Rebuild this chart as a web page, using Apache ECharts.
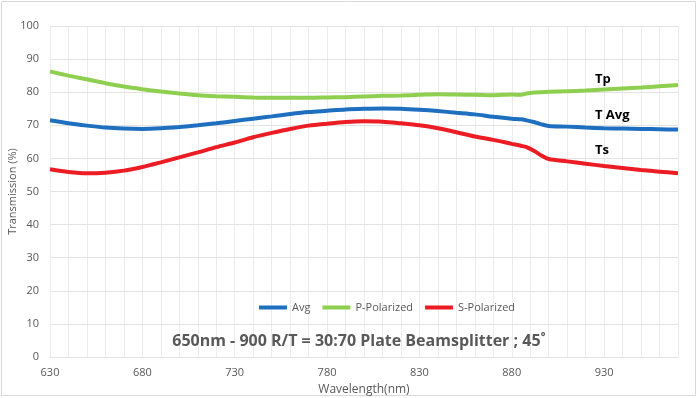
<!DOCTYPE html>
<html>
<head>
    <meta charset="utf-8">
    <script src="https://cdn.jsdelivr.net/npm/echarts@6/dist/echarts.min.js"></script>
    <style>
        html, body { margin: 0; padding: 0; background: #fff; }
    </style>
</head>
<body>
	<div id="main" style="width: 699px; height: 398px;"></div>
	<script type="text/javascript">
		// wavelength (nm), denser around the kink near 890nm
		var wavelengths = [630,640,650,660,670,680,690,700,710,720,730,740,750,760,770,780,790,800,810,820,830,840,850,860,870,880,885,888,892,896,900,910,920,930,940,950,960,970]
		var avg = [71.5,70.6,69.9,69.3,69.0,68.9,69.1,69.5,70.0,70.6,71.3,72.0,72.7,73.4,74.0,74.4,74.8,75.0,75.1,75.0,74.7,74.3,73.8,73.3,72.6,72.0,71.8,71.5,71.0,70.3,69.8,69.6,69.3,69.1,69.0,68.9,68.8,68.7]
		var pPol = [86.3,85.0,83.9,82.7,81.7,80.9,80.2,79.6,79.1,78.8,78.6,78.4,78.3,78.3,78.3,78.4,78.5,78.7,78.9,79.0,79.2,79.4,79.3,79.2,79.1,79.3,79.2,79.6,79.9,80.0,80.1,80.3,80.5,80.8,81.1,81.4,81.8,82.2]
		var sPol = [56.7,55.9,55.5,55.7,56.3,57.4,58.8,60.3,61.8,63.4,64.8,66.4,67.7,68.9,69.9,70.5,71.0,71.2,71.1,70.6,70.0,69.1,67.9,66.6,65.6,64.4,63.8,63.4,62.3,60.9,59.8,59.1,58.4,57.7,57.1,56.5,56.0,55.5]
		var seriesNames = ['Avg','P-Polarized','S-Polarized']
		var seriesColors = ['#1f6fc0','#8fcf50','#ec1c24']
		// curve labels on the right: [text, wavelength, value]
		var curveLabels = [['Tp',925,83.9],['T Avg',925,73.1],['Ts',925,62.3]]
		var chartTitle = '650nm - 900 R/T = 30:70 Plate Beamsplitter ; 45\u02da'

		function pairs(ys){
			var out = []
			for (var i = 0; i < wavelengths.length; i++){
				out.push([wavelengths[i], ys[i]])
			}
			return out
		}
		var allData = [avg, pPol, sPol]
		var series = []
		for (var k = 0; k < 3; k++){
			series.push({
				name: seriesNames[k],
				type: 'line',
				xAxisIndex: 0,
				data: pairs(allData[k]),
				smooth: 0.3,
				showSymbol: false,
				lineStyle: { width: 4, color: seriesColors[k] },
				itemStyle: { color: seriesColors[k] },
				animation: false
			})
		}
		// dummy series on the minor axis so it draws its grid
		series.push({ type: 'line', xAxisIndex: 1, data: [], silent: true })

		var labelFont = 'Open Sans, sans-serif'
		var myChart = echarts.init(document.getElementById('main'))
		var option = {
			animation: false,
			backgroundColor: '#fff',
			grid: { left: 50, right: 21, top: 26, bottom: 41, containLabel: false, outerBoundsMode: 'none' },
			legend: {
				data: seriesNames,
				left: 254,
				top: 297,
				itemWidth: 28,
				itemHeight: 4,
				itemGap: 12,
				icon: 'rect',
				textStyle: { fontSize: 11, color: '#595959', fontFamily: labelFont }
			},
			xAxis: [{
				type: 'value',
				min: 630,
				max: 970,
				interval: 50,
				name: 'Wavelength(nm)',
				nameLocation: 'middle',
				nameGap: 27,
				nameTextStyle: { fontSize: 12, color: '#595959', fontFamily: labelFont },
				axisLine: { show: true, lineStyle: { color: '#d9d9d9' } },
				axisTick: { show: false },
				axisLabel: { fontSize: 11, color: '#595959', margin: 10, showMaxLabel: false, fontFamily: labelFont },
				splitLine: { show: true, lineStyle: { color: '#d4d4d4', width: 1 } }
			}, {
				type: 'value',
				min: 630,
				max: 970,
				interval: 10,
				position: 'bottom',
				axisLine: { show: false },
				axisTick: { show: false },
				axisLabel: { show: false },
				splitLine: { show: true, lineStyle: { color: '#ececec', width: 1 } }
			}],
			yAxis: {
				type: 'value',
				min: 0,
				max: 100,
				interval: 10,
				name: 'Transmission (%)',
				nameLocation: 'middle',
				nameGap: 32,
				nameMoveOverlap: false,
				nameTextStyle: { fontSize: 11, color: '#595959', fontFamily: labelFont },
				axisLine: { show: false },
				axisTick: { show: false },
				axisLabel: { fontSize: 11, color: '#595959', margin: 11, fontFamily: labelFont },
				splitLine: { show: true, lineStyle: { color: '#e3e3e3', width: 1 } },
				z: 1
			},
			series: series
		}
		myChart.setOption(option)

		var graphics = [{
			type: 'rect',
			shape: { x: 1.5, y: 1.5, width: 694, height: 394 },
			style: { fill: 'none', stroke: '#d9d9d9', lineWidth: 1 },
			silent: true
		}, {
			type: 'text',
			x: 359,
			y: 341,
			style: {
				text: chartTitle,
				fill: '#595959',
				font: 'bold 16px ' + labelFont,
				textAlign: 'center',
				textVerticalAlign: 'middle'
			}
		}]
		for (var j = 0; j < curveLabels.length; j++){
			var p = myChart.convertToPixel({ gridIndex: 0 }, [curveLabels[j][1], curveLabels[j][2]])
			graphics.push({
				type: 'text',
				x: p[0],
				y: p[1],
				style: {
					text: curveLabels[j][0],
					fill: '#000',
					font: 'bold 13px ' + labelFont,
					textAlign: 'left',
					textVerticalAlign: 'middle'
				}
			})
		}
		myChart.setOption({ graphic: graphics })
	</script>
</body>
</html>
